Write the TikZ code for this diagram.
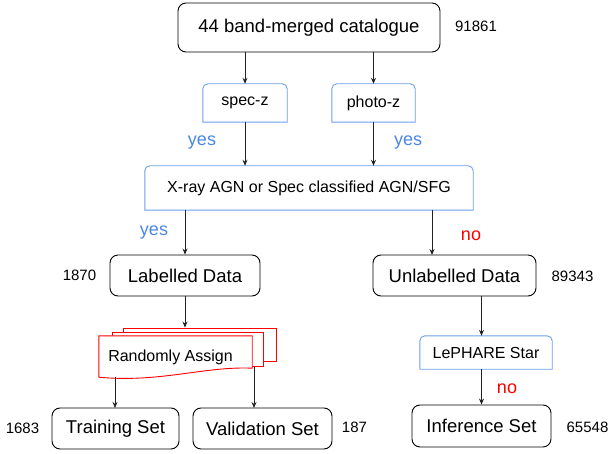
\documentclass[tikz,border=0pt]{standalone}
\usepackage{fontspec}
\setmainfont{Liberation Sans}
\usetikzlibrary{arrows.meta}
\definecolor{boxblue}{HTML}{6D9EEB}
\definecolor{txtblue}{HTML}{4A86E8}
\definecolor{linegray}{HTML}{222222}
\newcommand{\topround}[1]{\draw[bluebox] (#1.south west) -- ([yshift=-5pt]#1.north west) arc[start angle=180,end angle=90,radius=5pt] -- ([xshift=-5pt]#1.north east) arc[start angle=90,end angle=0,radius=5pt] -- (#1.south east) -- cycle;}
\tikzset{
  blackbox/.style={draw=black, line width=0.9pt, rounded corners=8pt, inner sep=0pt, font=\fontsize{18.5}{20}\selectfont},
  bluetext/.style={inner sep=0pt, font=\fontsize{16}{18}\selectfont},
  bluebox/.style={draw=boxblue, line width=0.9pt},
  redsheet/.style={draw=red, line width=0.9pt, fill=white},
  numlbl/.style={inner sep=0pt, font=\fontsize{15}{17}\selectfont},
  yeslbl/.style={inner sep=0pt, text=txtblue, font=\fontsize{18}{20}\selectfont},
  nolbl/.style={inner sep=0pt, text=red, font=\fontsize{18}{20}\selectfont},
  arr/.style={draw=linegray, line width=0.8pt, -{Stealth[length=6pt,width=5pt]}},
}
\begin{document}
\begin{tikzpicture}[x=1pt,y=-1pt]
\useasboundingbox (0,0) rectangle (610,454);
% boxes
\node[blackbox, minimum width=262pt, minimum height=49pt] (top) at (309,27.5) {44 band-merged catalogue};
\node[bluetext, minimum width=84pt, minimum height=38pt] (specz) at (245,103) {spec-z};
\node[bluetext, minimum width=83pt, minimum height=38pt] (photoz) at (373.5,103) {photo-z};
\node[bluetext, minimum width=328pt, minimum height=44pt] (xray) at (309,188) {X-ray AGN or Spec classified AGN/SFG};
\topround{specz}
\topround{photoz}
\topround{xray}
\node[blackbox, minimum width=150pt, minimum height=41pt] (lab) at (185,275.5) {Labelled Data};
\node[blackbox, minimum width=163pt, minimum height=41pt] (unl) at (454.5,275.5) {Unlabelled Data};
% random assign stack
\node[redsheet, minimum width=153pt, minimum height=33pt, inner sep=0pt] (rb) at (199.5,344.5) {};
\node[redsheet, minimum width=151pt, minimum height=34pt, inner sep=0pt] (rm) at (187.5,349) {};
\node[inner sep=0pt, minimum width=153pt, minimum height=41pt] (ra) at (175.5,356.5) {};
\draw[redsheet] (ra.north west) -- (ra.north east) -- ([yshift=9pt]ra.south east)
  .. controls (205,366) and (160,383) .. (ra.south west) -- cycle;
\node[bluetext, anchor=center] (ratext) at (170.5,357) {Randomly Assign};
\node[blackbox, minimum width=127pt, minimum height=41pt] (train) at (115.5,428.5) {Training Set};
\node[blackbox, minimum width=139pt, minimum height=41pt] (valid) at (262.5,428.5) {Validation Set};
\node[bluetext, minimum width=132pt, minimum height=33pt] (leph) at (486,352.5) {LePHARE Star};
\topround{leph}
\node[blackbox, minimum width=139pt, minimum height=42pt] (inf) at (481.5,426) {Inference Set};
% labels
\node[numlbl] (n1) at (476,26) {91861};
\node[numlbl] (n2) at (79.5,275) {1870};
\node[numlbl] (n3) at (572.5,276) {89343};
\node[numlbl] (n4) at (22.5,428) {1683};
\node[numlbl] (n5) at (354.5,427) {187};
\node[numlbl] (n6) at (587.5,427) {65548};
\node[yeslbl] (y1) at (202,143) {yes};
\node[yeslbl] (y2) at (408,143) {yes};
\node[yeslbl] (y3) at (154,233) {yes};
\node[nolbl] (no1) at (471,236) {no};
\node[nolbl] (no2) at (507,389) {no};
% connector end points
\coordinate (ux1) at (432,210);
\coordinate (ux2) at (432,255);
\coordinate (vx1) at (254,367);
\coordinate (vx2) at (254,408);
\coordinate (tx1) at (115,376.5);
\coordinate (tx2) at (115,408);
% connectors
\draw[arr] (top.south -| specz) -- (specz.north);
\draw[arr] (top.south -| photoz) -- (photoz.north);
\draw[arr] (specz.south) -- (specz |- xray.north);
\draw[arr] (photoz.south) -- (photoz |- xray.north);
\draw[arr] (lab |- xray.south) -- (lab.north);
\draw[arr] (ux1) -- (ux2);
\draw[arr] (lab.south) -- (lab.south |- rb.north);
\draw[arr] (tx1) -- (tx2);
\draw[arr] (vx1) -- (vx2);
\draw[arr] (inf.north |- unl.south) -- (inf.north |- leph.north);
\draw[arr] (inf.north |- leph.south) -- (inf.north);
\end{tikzpicture}
\end{document}
